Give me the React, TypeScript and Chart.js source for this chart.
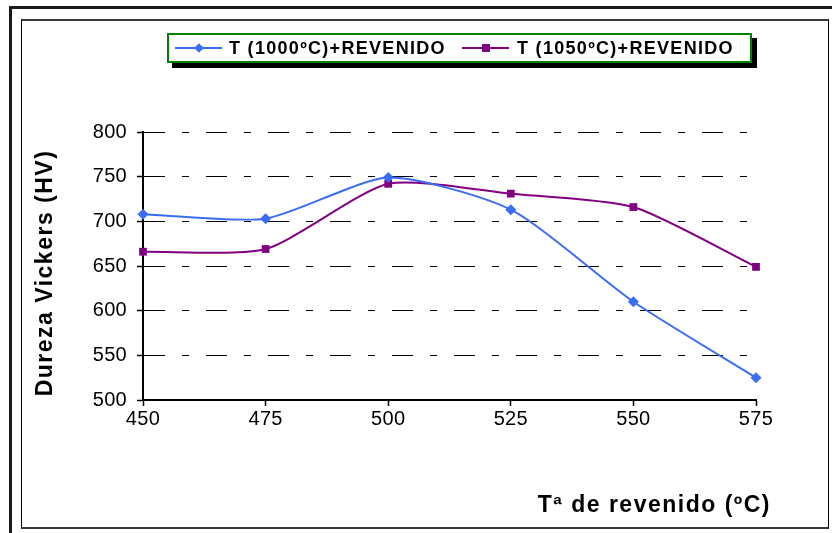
import React, { useEffect, useRef } from 'react';
import { Chart, registerables } from 'chart.js';

Chart.register(...registerables);

const temperatures = [450, 475, 500, 525, 550, 575];
const hardness1000 = [708, 703, 749, 713, 610, 525];
const hardness1050 = [666, 669, 742, 731, 716, 649];
const label1000 = 'T (1000ºC)+REVENIDO';
const label1050 = 'T (1050ºC)+REVENIDO';
const xAxisTitle = 'Tª de revenido (ºC)';
const yAxisTitle = 'Dureza Vickers (HV)';
const yMin = 500;
const yMax = 800;
const yStep = 50;
const xMin = 450;
const xMax = 575;
const xStep = 25;

const BLUE = '#3a6cf4';
const PURPLE = '#800080';
const FONT = 'Arial, "Liberation Sans", sans-serif';

const titlesPlugin = {
  id: 'customTitles',
  beforeDraw(chart: any) {
    (chart.ctx as any).letterSpacing = '0.3px';
  },
  afterDraw(chart: any) {
    const { ctx, chartArea } = chart;
    ctx.save();
    (ctx as any).letterSpacing = '1.5px';
    ctx.fillStyle = '#000';
    ctx.font = `bold 23px ${FONT}`;
    ctx.textAlign = 'right';
    ctx.textBaseline = 'alphabetic';
    ctx.fillText(xAxisTitle, chartArea.right + 15, 512);
    ctx.translate(52, (chartArea.top + chartArea.bottom) / 2 + 7);
    ctx.rotate(-Math.PI / 2);
    ctx.textAlign = 'center';
    ctx.fillText(yAxisTitle, 0, 0);
    ctx.restore();
  },
};

function LegendItem({ color, square, left, text, textLeft }: any) {
  return (
    <>
      <div style={{ position: 'absolute', left, top: 12, width: 47, height: 2, background: color }} />
      <div
        style={{
          position: 'absolute',
          left: left + 20,
          top: 9,
          width: 8,
          height: 8,
          background: color,
          transform: square ? 'none' : 'rotate(45deg) scale(0.85)',
        }}
      />
      <div
        style={{
          position: 'absolute',
          left: textLeft,
          top: 2,
          font: `bold 18px ${FONT}`,
          letterSpacing: '1.3px',
          lineHeight: '22px',
          whiteSpace: 'nowrap',
          color: '#000',
        }}
      >
        {text}
      </div>
    </>
  );
}

export default function App() {
  const canvasRef = useRef<HTMLCanvasElement | null>(null);

  useEffect(() => {
    const canvas = canvasRef.current!;
    const chart = new Chart(canvas, {
      type: 'line',
      data: {
        datasets: [
          {
            label: label1000,
            data: temperatures.map((t, i) => ({ x: t, y: hardness1000[i] })),
            borderColor: BLUE,
            backgroundColor: BLUE,
            borderWidth: 2,
            pointStyle: 'rectRot',
            pointRadius: 5.5,
            pointBorderWidth: 0,
            tension: 0.22,
            fill: false,
            clip: false,
          },
          {
            label: label1050,
            data: temperatures.map((t, i) => ({ x: t, y: hardness1050[i] })),
            borderColor: PURPLE,
            backgroundColor: PURPLE,
            borderWidth: 2,
            pointStyle: 'rect',
            pointRadius: 5.5,
            pointBorderWidth: 0,
            tension: 0.22,
            fill: false,
            clip: false,
          },
        ],
      },
      options: {
        responsive: false,
        animation: false,
        devicePixelRatio: 1,
        layout: { padding: { left: 30, top: 132, right: 76, bottom: 93 } },
        plugins: {
          legend: { display: false },
          title: { display: false },
          tooltip: { enabled: false },
        },
        scales: {
          x: {
            type: 'linear',
            min: xMin,
            max: xMax,
            afterFit: (s: any) => {
              s.height = 40;
            },
            ticks: {
              stepSize: xStep,
              color: '#000',
              font: { family: FONT, size: 20 },
              padding: 1,
              maxRotation: 0,
            },
            grid: {
              drawOnChartArea: false,
              drawTicks: true,
              tickLength: 6,
              tickColor: '#000',
              tickWidth: 1.5,
            },
            border: { display: true, color: '#000', width: 2 },
          },
          y: {
            min: yMin,
            max: yMax,
            afterFit: (s: any) => {
              s.width = 113;
            },
            ticks: {
              stepSize: yStep,
              color: '#000',
              font: { family: FONT, size: 20 },
              padding: 10,
            },
            grid: {
              drawOnChartArea: true,
              drawTicks: true,
              tickLength: 6,
              color: '#000',
              lineWidth: 1,
              tickColor: '#000',
              tickWidth: 1.5,
              tickBorderDash: [],
            },
            border: { display: true, color: '#000', width: 2, dash: [21, 17, 7, 17] },
          },
        },
      },
      plugins: [titlesPlugin],
    });
    return () => chart.destroy();
  }, []);

  return (
    <div
      style={{
        position: 'fixed',
        left: 0,
        top: 0,
        width: 832,
        height: 533,
        background: '#fff',
        overflow: 'hidden',
      }}
    >
      <div
        style={{
          position: 'absolute',
          left: 9,
          top: 6,
          width: 900,
          height: 600,
          borderLeft: '3px solid #1a1a1a',
          borderTop: '3px solid #1a1a1a',
        }}
      />
      <div
        style={{
          position: 'absolute',
          left: 21,
          top: 19,
          width: 808,
          height: 510,
          boxSizing: 'border-box',
          borderLeft: '1px solid #000',
          borderRight: '1px solid #000',
          borderTop: '2px solid #3a3a3a',
          borderBottom: '2px solid #3a3a3a',
        }}
      />
      <canvas
        ref={canvasRef}
        width={832}
        height={533}
        style={{ position: 'absolute', left: 0, top: 0, width: 832, height: 533 }}
      />
      <div
        style={{
          position: 'absolute',
          left: 167,
          top: 33,
          width: 585,
          height: 30,
          boxSizing: 'border-box',
          border: '2px solid #008000',
          boxShadow: '5px 5px 0 #000',
          background: '#fff',
        }}
      >
        <LegendItem color={BLUE} square={false} left={6} text={label1000} textLeft={60} />
        <LegendItem color={PURPLE} square={true} left={293} text={label1050} textLeft={348} />
      </div>
    </div>
  );
}
